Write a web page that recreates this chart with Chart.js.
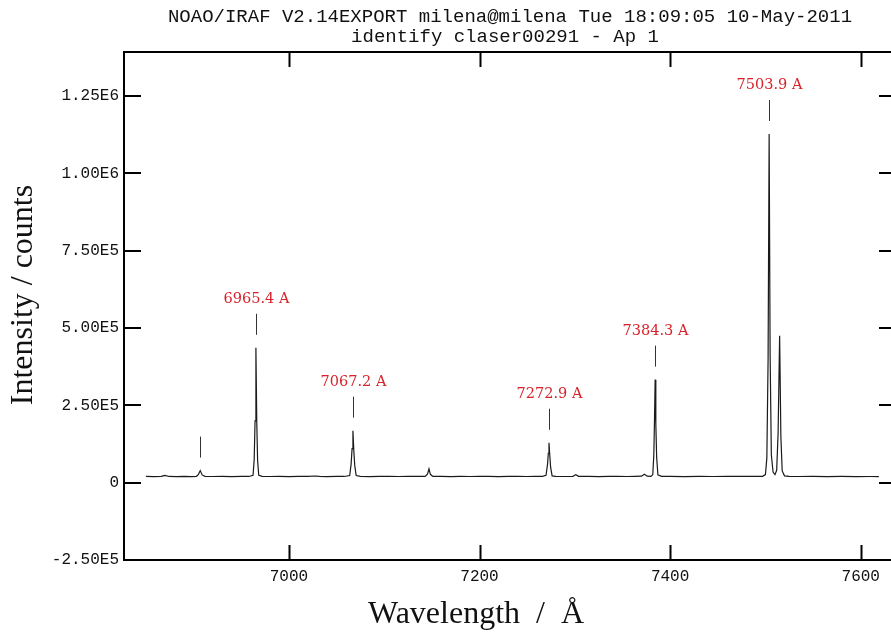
<!DOCTYPE html>
<html>
<head>
<meta charset="utf-8">
<title>identify claser00291</title>
<script src="https://cdn.jsdelivr.net/npm/chart.js@4.4.1/dist/chart.umd.min.js"></script>
<style>
  html, body { margin: 0; padding: 0; background: #fff; overflow: hidden; }
  #wrap { width: 900px; height: 632px; }
</style>
</head>
<body>
<div id="wrap"><canvas id="spec" width="900" height="632"></canvas></div>
<script>
// arc lamp spectrum, aperture 1
const wavelength = [
  6850, 6858, 6866, 6870, 6874, 6882, 6890, 6898, 6903, 6905, 6907, 6909, 6912,
  6920, 6930, 6940, 6950, 6958, 6962.4, 6963.6, 6964.5, 6965.4, 6966.3, 6967.2, 6968.4,
  6972, 6980, 6990, 7000, 7010, 7020, 7028, 7032, 7040, 7050, 7058,
  7063.8, 7065.3, 7066.3, 7067.2, 7068.1, 7069.1, 7070.6,
  7075, 7085, 7095, 7105, 7115, 7125, 7135, 7143, 7145.5, 7147, 7148.5, 7151,
  7160, 7170, 7180, 7190, 7200, 7210, 7220, 7230, 7240, 7250, 7258, 7266,
  7269.8, 7271.4, 7272.2, 7272.9, 7273.7, 7274.6, 7276.2,
  7280, 7290, 7298, 7301, 7304, 7315, 7325, 7335, 7345, 7355, 7363, 7370, 7373, 7376, 7380,
  7381.8, 7382.9, 7383.6, 7384.3, 7385, 7385.9, 7387.2,
  7391, 7400, 7415, 7430, 7445, 7460, 7475, 7488, 7497,
  7500, 7501.5, 7502.8, 7503.9, 7504.9, 7506.2, 7508, 7510,
  7511.8, 7513.3, 7514.9, 7516.2, 7517.6, 7520,
  7525, 7535, 7550, 7565, 7580, 7595, 7610, 7619
];
const intensity = [
  20500, 19800, 20200, 23500, 20000, 19600, 20100, 19800, 20500, 26000, 39000, 25000, 20300,
  19900, 20400, 19800, 20200, 20000, 24000, 75000, 200000, 436000, 195000, 70000, 24000,
  20200, 19900, 20300, 19800, 20000, 20400, 21500, 20000, 19700, 20200, 20000,
  23000, 60000, 110000, 168000, 105000, 55000, 23000,
  20400, 19800, 20100, 20300, 19900, 20000, 20200, 20400, 28000, 45000, 27000, 20300,
  20000, 19800, 20200, 19900, 20100, 20300, 19800, 20000, 20200, 19900, 20100, 20500,
  24000, 60000, 95000, 129000, 90000, 50000, 22000,
  20200, 19900, 20300, 26000, 20500, 20000, 19800, 20200, 20000, 19900, 20300, 21000, 27000, 21000, 20500,
  26000, 90000, 200000, 333000, 190000, 80000, 25000,
  20300, 20000, 19800, 20100, 19900, 20200, 20000, 20300, 20500,
  26000, 80000, 400000, 1127000, 420000, 90000, 34000, 26000,
  40000, 160000, 475000, 150000, 38000, 22000,
  20300, 19900, 20100, 19800, 20000, 19700, 19900, 19800
];

// identified features (first one is marked but unlabelled)
const featureWave = [6907, 6965.4, 7067.2, 7272.9, 7384.3, 7503.9];
const featureText = ['', '6965.4 A', '7067.2 A', '7272.9 A', '7384.3 A', '7503.9 A'];

const xTicks = [7000, 7200, 7400, 7600];
const yTicks = [-250000, 0, 250000, 500000, 750000, 1000000, 1250000];
const yTickText = ['-2.50E5', '0', '2.50E5', '5.00E5', '7.50E5', '1.00E6', '1.25E6'];

const titleLines = [
  'NOAO/IRAF V2.14EXPORT milena@milena Tue 18:09:05 10-May-2011',
  'identify claser00291 - Ap 1'
];
const xTitle = 'Wavelength  /  \u00C5';
const yTitle = 'Intensity / counts';

const points = wavelength.map((w, i) => ({ x: w, y: intensity[i] }));

// box around the plot with inward ticks on every side
const framePlugin = {
  id: 'frame',
  afterDraw(chart) {
    const { ctx, chartArea: a, scales: { x, y } } = chart;
    ctx.save();
    ctx.strokeStyle = '#000';
    ctx.lineWidth = 2;
    ctx.strokeRect(a.left, a.top, a.right - a.left, a.bottom - a.top);
    ctx.beginPath();
    xTicks.forEach(v => {
      const px = Math.round(x.getPixelForValue(v)) + 0.5;
      ctx.moveTo(px, a.bottom); ctx.lineTo(px, a.bottom - 15);
      ctx.moveTo(px, a.top); ctx.lineTo(px, a.top + 15);
    });
    yTicks.forEach(v => {
      const py = Math.round(y.getPixelForValue(v));
      ctx.moveTo(a.left, py); ctx.lineTo(a.left + 17, py);
      ctx.moveTo(a.right, py); ctx.lineTo(a.right - 17, py);
    });
    ctx.stroke();
    ctx.restore();
  }
};

// plot heading and axis titles
const textPlugin = {
  id: 'headings',
  afterDraw(chart) {
    const { ctx } = chart;
    ctx.save();
    ctx.fillStyle = '#111';
    ctx.textAlign = 'center';
    ctx.textBaseline = 'alphabetic';
    ctx.font = '19px "Liberation Mono"';
    ctx.fillText(titleLines[0], 510, 22);
    ctx.fillText(titleLines[1], 505, 42);

    ctx.font = '32px "Liberation Serif"';
    ctx.fillText(xTitle, 476, 623);
    ctx.translate(32, 295);
    ctx.rotate(-Math.PI / 2);
    ctx.fillText(yTitle, 0, 0);
    ctx.restore();
  }
};

// feature marks above each identified line
const featurePlugin = {
  id: 'features',
  afterDatasetsDraw(chart) {
    const { ctx, scales: { x, y } } = chart;
    ctx.save();
    featureWave.forEach((w, i) => {
      const k = wavelength.indexOf(w);
      const px = Math.round(x.getPixelForValue(w)) + 0.5;
      const py = y.getPixelForValue(intensity[k]);
      ctx.strokeStyle = '#333';
      ctx.lineWidth = 1;
      ctx.beginPath();
      ctx.moveTo(px, py - 13);
      ctx.lineTo(px, py - 34);
      ctx.stroke();
      if (featureText[i]) {
        ctx.fillStyle = '#d6232b';
        ctx.font = '14.5px "DejaVu Serif"';
        ctx.textAlign = 'center';
        ctx.textBaseline = 'alphabetic';
        ctx.fillText(featureText[i], px, py - 45);
      }
    });
    ctx.restore();
  }
};

new Chart(document.getElementById('spec'), {
  type: 'line',
  data: {
    datasets: [{
      data: points,
      borderColor: '#1a1a1a',
      borderWidth: 1.2,
      pointRadius: 0,
      tension: 0
    }]
  },
  options: {
    responsive: false,
    animation: false,
    layout: { padding: { top: 52, right: 4, left: 0, bottom: 0 }, autoPadding: false },
    plugins: { legend: { display: false }, tooltip: { enabled: false } },
    scales: {
      x: {
        type: 'linear',
        min: 6827,
        max: 7637,
        grid: { display: false, drawTicks: false },
        border: { display: false },
        afterBuildTicks: s => { s.ticks = xTicks.map(v => ({ value: v })); },
        afterFit: s => { s.height = 72; },
        ticks: {
          color: '#111',
          padding: 7,
          maxRotation: 0,
          autoSkip: false,
          font: { family: '"Liberation Mono"', size: 16 },
          callback: v => String(v)
        }
      },
      y: {
        min: -250000,
        max: 1392000,
        grid: { display: false, drawTicks: false },
        border: { display: false },
        afterBuildTicks: s => { s.ticks = yTicks.map(v => ({ value: v })); },
        afterFit: s => { s.width = 124; },
        ticks: {
          color: '#111',
          padding: 5,
          autoSkip: false,
          font: { family: '"Liberation Mono"', size: 16 },
          callback: v => yTickText[yTicks.indexOf(v)]
        }
      }
    }
  },
  plugins: [framePlugin, textPlugin, featurePlugin]
});
</script>
</body>
</html>
